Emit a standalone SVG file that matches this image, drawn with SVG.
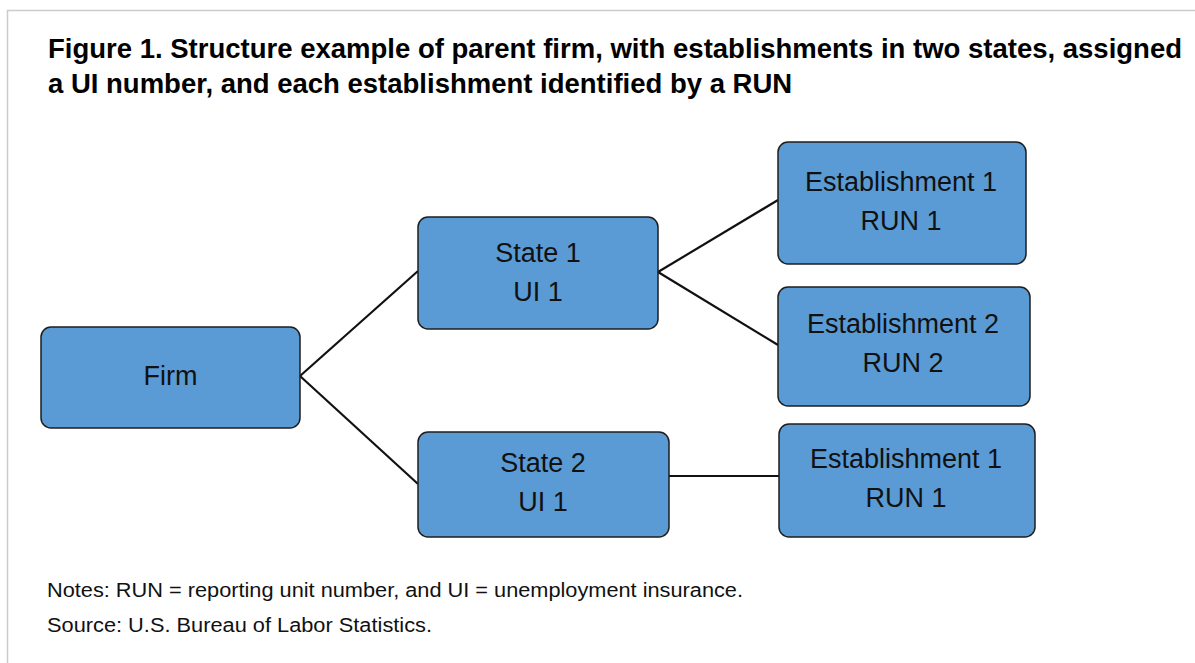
<svg xmlns="http://www.w3.org/2000/svg" width="1195" height="663" viewBox="0 0 1195 663">
  <style>
    .title { font-family: "Liberation Sans", Arial, sans-serif; font-weight: bold; font-size: 27.5px; fill: #000; }
    .box { fill: #5b9bd5; stroke: #1e1e1e; stroke-width: 1.5; }
    .label { font-family: "Liberation Sans", Arial, sans-serif; font-size: 27px; fill: #111; text-anchor: middle; }
    .note { font-family: "Liberation Sans", Arial, sans-serif; font-size: 20px; fill: #111; }
    .link { stroke: #111; stroke-width: 2.2; fill: none; }
  </style>

  <!-- page frame -->
  <rect x="0" y="0" width="1195" height="663" fill="#fff"/>
  <path d="M7.5 663 V10.5 H1195" fill="none" stroke="#cccccc" stroke-width="1.5"/>

  <!-- heading -->
  <text class="title" x="48" y="58" textLength="1134" lengthAdjust="spacingAndGlyphs">Figure 1. Structure example of parent firm, with establishments in two states, assigned</text>
  <text class="title" x="48" y="93">a UI number, and each establishment identified by a RUN</text>

  <!-- connectors -->
  <g id="connectors">
    <line class="link" x1="300" y1="376" x2="418" y2="271"/>
    <line class="link" x1="300" y1="376" x2="418" y2="484"/>
    <line class="link" x1="658" y1="272" x2="778" y2="200"/>
    <line class="link" x1="658" y1="272" x2="778" y2="345"/>
    <line class="link" x1="669" y1="476" x2="779" y2="476"/>
  </g>

  <!-- nodes -->
  <g id="firm">
    <rect class="box" x="41" y="327" width="259" height="101" rx="10"/>
    <text class="label" x="170.5" y="385">Firm</text>
  </g>
  <g id="state1">
    <rect class="box" x="418" y="217" width="240" height="112" rx="10"/>
    <text class="label" x="538" y="262">State 1</text>
    <text class="label" x="538" y="301">UI 1</text>
  </g>
  <g id="state2">
    <rect class="box" x="418" y="432" width="251" height="105" rx="10"/>
    <text class="label" x="543" y="472">State 2</text>
    <text class="label" x="543" y="511">UI 1</text>
  </g>
  <g id="state1-est1">
    <rect class="box" x="778" y="142" width="248" height="122" rx="10"/>
    <text class="label" x="901" y="191">Establishment 1</text>
    <text class="label" x="901" y="230">RUN 1</text>
  </g>
  <g id="state1-est2">
    <rect class="box" x="778" y="287" width="252" height="119" rx="10"/>
    <text class="label" x="903" y="333">Establishment 2</text>
    <text class="label" x="903" y="372">RUN 2</text>
  </g>
  <g id="state2-est1">
    <rect class="box" x="779" y="424" width="256" height="113" rx="10"/>
    <text class="label" x="906" y="468">Establishment 1</text>
    <text class="label" x="906" y="507">RUN 1</text>
  </g>

  <!-- footnotes -->
  <text class="note" x="47" y="597" textLength="696" lengthAdjust="spacingAndGlyphs">Notes: RUN = reporting unit number, and UI = unemployment insurance.</text>
  <text class="note" x="47" y="632" textLength="385" lengthAdjust="spacingAndGlyphs">Source: U.S. Bureau of Labor Statistics.</text>
</svg>
